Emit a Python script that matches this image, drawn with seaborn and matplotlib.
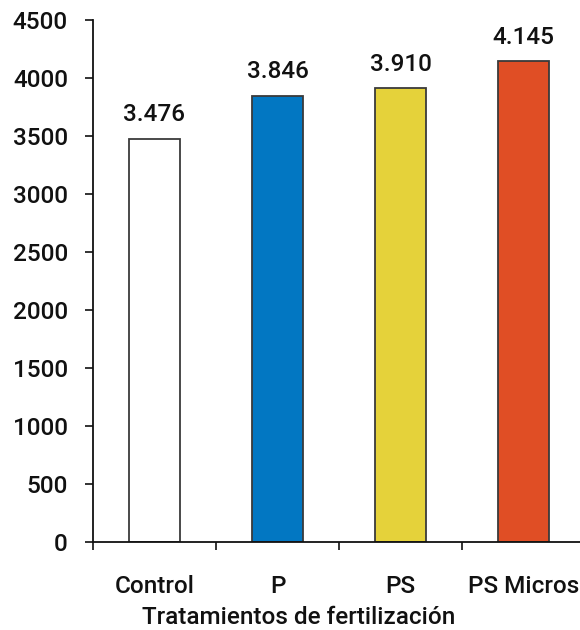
import matplotlib
matplotlib.use("Agg")
import matplotlib.pyplot as plt
import seaborn as sns
import pandas as pd

categories = ["Control", "P", "PS", "PS Micros"]
values = [3476, 3846, 3910, 4145]
value_labels = ["3.476", "3.846", "3.910", "4.145"]
colors = ["#FFFFFF", "#0277C2", "#E5D23A", "#E04E25"]
yticks = [0, 500, 1000, 1500, 2000, 2500, 3000, 3500, 4000, 4500]
xlabel = "Tratamientos de fertilización"

sns.set_theme(style="white")
plt.rcParams["font.family"] = ["Roboto", "DejaVu Sans"]
plt.rcParams["font.weight"] = "medium"

FS = 17.5

df = pd.DataFrame({"cat": categories, "val": values})

fig = plt.figure(figsize=(5.8, 6.3), dpi=100)
ax = fig.add_axes([93 / 580, 88 / 630, 492 / 580, 522 / 630])

sns.barplot(data=df, x="cat", y="val", hue="cat", palette=colors, legend=False,
            width=0.41, edgecolor="#3a3a3a", linewidth=1.3, ax=ax, saturation=1)

for i, (v, lab) in enumerate(zip(values, value_labels)):
    ax.annotate(lab, (i, v), xytext=(0, 9), textcoords="offset points",
                ha="center", va="bottom", fontsize=FS, color="#111111",
                fontweight="medium")

ax.set_xlim(-0.5, 3.5)
ax.set_ylim(0, 4500)
ax.set_yticks(yticks)
ax.set_yticklabels([str(t) for t in yticks], fontsize=FS, color="#111111")
ax.set_xticks(range(len(categories)))
ax.set_xticklabels(categories, fontsize=FS, color="#111111")
ax.set_xticks([-0.5, 0.5, 1.5, 2.5], minor=True)
ax.tick_params(axis="x", which="major", length=0, pad=24)
ax.tick_params(axis="x", which="minor", length=6, width=1.2, color="#111111", direction="out", bottom=True)
ax.tick_params(axis="y", which="major", length=6, width=1.2, color="#111111", direction="out", left=True, pad=12)

for s in ["top", "right"]:
    ax.spines[s].set_visible(False)
for s in ["left", "bottom"]:
    ax.spines[s].set_color("#111111")
    ax.spines[s].set_linewidth(1.3)
ax.set_xlabel("")
ax.set_ylabel("")

fig.text(299 / 580, 13 / 630, xlabel, ha="center", va="center", fontsize=FS, color="#111111")

fig.savefig("out.png", dpi=100)
